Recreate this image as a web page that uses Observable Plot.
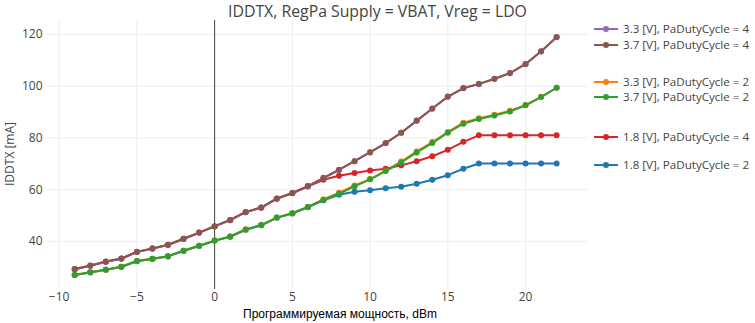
<!DOCTYPE html>
<html>
<head>
<meta charset="utf-8">
<script src="https://cdn.jsdelivr.net/npm/d3@7"></script>
<script src="https://cdn.jsdelivr.net/npm/@observablehq/plot@0.6"></script>
<style>
  body { margin: 0; background: #fff; }
  #wrap { position: relative; width: 755px; height: 323px; font-family: "Open Sans", sans-serif; }
  #title { position: absolute; left: 0; width: 755px; top: 0px; line-height: normal; text-align: center; font-size: 15.8px; color: #444; white-space: nowrap; }
  #xlabel { position: absolute; left: 243px; top: 307px; font-family: "Liberation Sans", Arial, sans-serif; font-size: 12px; line-height: 14px; color: #000; white-space: nowrap; }
  #ylabel { position: absolute; left: 10px; top: 154px; transform: translate(-50%, -50%) rotate(-90deg); font-size: 12px; line-height: 14px; color: #444; white-space: nowrap; }
  #legend { position: absolute; left: 0; top: 0; }
</style>
</head>
<body>
<div id="wrap">
  <div id="plot"></div>
  <div id="title">IDDTX, RegPa Supply = VBAT, Vreg = LDO</div>
  <div id="ylabel">IDDTX [mA]</div>
  <div id="xlabel">Программируемая мощность, dBm</div>
  <svg id="legend" width="755" height="323"></svg>
</div>
<script>
const power = [-9,-8,-7,-6,-5,-4,-3,-2,-1,0,1,2,3,4,5,6,7,8,9,10,11,12,13,14,15,16,17,18,19,20,21,22];

const v33pd4 = [29.2,30.6,32.1,33.4,35.9,37.2,38.7,41.0,43.4,45.8,48.2,51.3,53.1,56.5,58.7,61.4,64.5,67.6,71.0,74.4,77.9,82.0,86.6,91.3,95.9,99.2,100.8,102.8,105.0,108.5,113.4,118.9];
const v37pd4 = [29.3,30.7,32.2,33.4,36.0,37.3,38.7,41.0,43.4,45.9,48.3,51.4,53.1,56.6,58.7,61.4,64.6,67.7,71.0,74.5,78.0,82.0,86.7,91.4,96.0,99.3,100.9,102.9,105.1,108.6,113.5,119.0];
const v33pd2 = [27.0,28.1,29.0,30.2,32.4,33.3,34.3,36.4,38.3,40.3,41.9,44.6,46.3,49.2,50.9,53.3,56.3,58.8,61.6,64.1,67.3,70.9,74.8,78.4,82.3,85.9,87.6,89.0,90.5,92.7,95.9,99.4];
const v37pd2 = [27.0,28.1,29.0,30.2,32.4,33.3,34.3,36.4,38.3,40.3,41.9,44.6,46.3,49.2,50.9,53.3,56.0,58.4,61.3,64.0,67.2,70.5,74.4,78.0,82.0,85.5,87.3,88.7,90.2,92.6,95.8,99.4];
const v18pd4 = [29.2,30.6,32.1,33.3,35.9,37.2,38.6,40.9,43.3,45.8,48.2,51.3,53.0,56.5,58.6,61.2,63.8,65.4,66.4,67.4,68.1,69.4,71.0,72.9,75.4,78.5,81.0,81.0,81.0,81.0,81.0,81.0];
const v18pd2 = [27.0,28.0,29.0,30.1,32.3,33.2,34.2,36.3,38.2,40.2,41.8,44.5,46.2,49.1,50.8,53.2,55.9,58.0,59.2,59.8,60.5,61.1,62.3,63.8,65.6,68.1,70.1,70.1,70.1,70.1,70.1,70.1];

const seriesNames = [
  "3.3 [V], PaDutyCycle = 4",
  "3.7 [V], PaDutyCycle = 4",
  "3.3 [V], PaDutyCycle = 2",
  "3.7 [V], PaDutyCycle = 2",
  "1.8 [V], PaDutyCycle = 4",
  "1.8 [V], PaDutyCycle = 2"
];
const seriesColors = ["#9467bd", "#8c564b", "#ff7f0e", "#2ca02c", "#d62728", "#1f77b4"];
const seriesValues = [v33pd4, v37pd4, v33pd2, v37pd2, v18pd4, v18pd2];
const drawOrder = [5, 4, 0, 2, 1, 3];
const legendY = [29, 45, 82, 97, 137, 165];

const xTicks = [-10, -5, 0, 5, 10, 15, 20];
const yTicks = [40, 60, 80, 100, 120];

const rows = [];
for (const s of drawOrder) {
  seriesValues[s].forEach((v, i) => rows.push({series: seriesNames[s], order: s, x: power[i], y: v}));
}

const colorScale = {domain: seriesNames, range: seriesColors};

const chart = Plot.plot({
  width: 755,
  height: 323,
  marginLeft: 47,
  marginRight: 167,
  marginTop: 20,
  marginBottom: 34,
  style: {fontFamily: "Open Sans, sans-serif", fontSize: "12px", color: "#444", background: "#fff"},
  x: {domain: [-10.75, 24.05], ticks: xTicks},
  y: {domain: [21.4, 125.4], ticks: yTicks},
  color: colorScale,
  marks: [
    Plot.gridX(xTicks, {stroke: "#eee", strokeOpacity: 1, strokeWidth: 1}),
    Plot.gridY(yTicks, {stroke: "#eee", strokeOpacity: 1, strokeWidth: 1}),
    Plot.ruleX([0], {stroke: "#444", strokeWidth: 1}),
    Plot.axisX(xTicks, {tickSize: 0, tickPadding: 3, label: null, fill: "#444", fontSize: 12}),
    Plot.axisY(yTicks, {tickSize: 0, tickPadding: 5, label: null, fill: "#444", fontSize: 12}),
    Plot.line(rows, {x: "x", y: "y", z: "series", stroke: "series", strokeWidth: 2, curve: "linear"}),
    Plot.dot(rows, {x: "x", y: "y", fill: "series", r: 3, stroke: "none"})
  ]
});
document.getElementById("plot").appendChild(chart);

// legend
const leg = d3.select("#legend");
seriesNames.forEach((name, i) => {
  const g = leg.append("g").attr("transform", `translate(0,${legendY[i]})`);
  g.append("line").attr("x1", 594).attr("x2", 618).attr("y1", 0).attr("y2", 0)
    .attr("stroke", seriesColors[i]).attr("stroke-width", 2);
  g.append("circle").attr("cx", 606).attr("cy", 0).attr("r", 3).attr("fill", seriesColors[i]);
  g.append("text").attr("x", 623).attr("y", 0).attr("dy", "0.35em")
    .attr("font-family", "Open Sans, sans-serif").attr("font-size", 11.6).attr("fill", "#444").text(name);
});
</script>
</body>
</html>
